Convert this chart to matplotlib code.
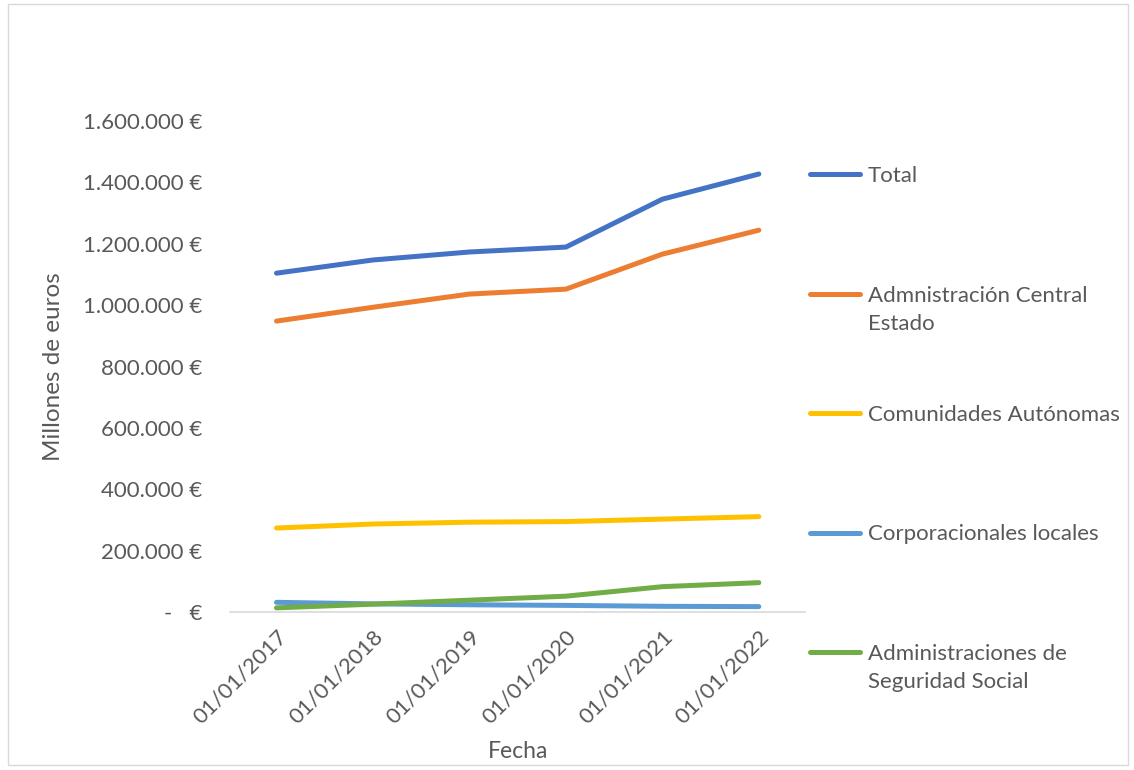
import matplotlib
matplotlib.use("Agg")
import matplotlib.pyplot as plt
from matplotlib.lines import Line2D
from matplotlib.patches import Rectangle
from matplotlib.ticker import FuncFormatter, MultipleLocator

plt.rcParams['font.family'] = ['Lato', 'DejaVu Sans']

fechas = ['01/01/2017', '01/01/2018', '01/01/2019', '01/01/2020', '01/01/2021', '01/01/2022']

total = [1104000, 1147000, 1173000, 1189000, 1345000, 1427000]
admin_central = [948000, 993000, 1036000, 1052000, 1166000, 1244000]
comunidades = [274000, 287000, 293000, 295000, 303000, 311000]
corporaciones = [32000, 27000, 24000, 22000, 19000, 18000]
seguridad_social = [14000, 26000, 39000, 52000, 83000, 96000]

series = [
    ('Total', total, '#4472C4'),
    ('Admnistración Central\nEstado', admin_central, '#ED7D31'),
    ('Comunidades Autónomas', comunidades, '#FFC000'),
    ('Corporacionales locales', corporaciones, '#5B9BD5'),
    ('Administraciones de\nSeguridad Social', seguridad_social, '#70AD47'),
]

gris = '#595959'
fs = 16

fig = plt.figure(figsize=(11.34, 7.7), dpi=100)
ax = fig.add_axes([0.203, 0.205, 0.507, 0.638])

x = list(range(len(fechas)))
for nombre, valores, color in series:
    ax.plot(x, valores, color=color, lw=3.6, solid_capstyle='round')

ax.set_xlim(-0.48, 5.48)
ax.set_ylim(0, 1600000)
ax.yaxis.set_major_locator(MultipleLocator(200000))


def euros(v, pos):
    if v == 0:
        return '-   €'
    return '{:,.0f} €'.format(v).replace(',', '.')


ax.yaxis.set_major_formatter(FuncFormatter(euros))
ax.set_xticks(x)
ax.set_xticklabels(fechas, rotation=45, ha='right', rotation_mode='anchor')

for s in ['top', 'right', 'left']:
    ax.spines[s].set_visible(False)
ax.spines['bottom'].set_color('#D9D9D9')
ax.spines['bottom'].set_linewidth(1.2)
ax.tick_params(axis='y', length=0, pad=20, labelsize=fs, labelcolor=gris)
ax.tick_params(axis='x', length=0, pad=10, labelsize=fs, labelcolor=gris)

ax.set_xlabel('Fecha', fontsize=fs + 0.5, color=gris, labelpad=10)
ax.set_ylabel('Millones de euros', fontsize=fs + 1.5, color=gris, labelpad=14)

# leyenda a la derecha, entradas espaciadas de forma regular
y0 = 1 - 174 / 770
paso = 119.5 / 770
for i, (nombre, valores, color) in enumerate(series):
    yy = y0 - i * paso
    fig.add_artist(Line2D([810 / 1134, 860 / 1134], [yy, yy], color=color,
                          lw=3.6, solid_capstyle='round'))
    fig.text(868 / 1134, yy + 8 / 770, nombre, fontsize=fs, color=gris,
             va='top', linespacing=1.5, transform=fig.transFigure)

fig.add_artist(Rectangle((8 / 1134, 5 / 770), 1120 / 1134, 761 / 770,
                         transform=fig.transFigure, fill=False,
                         edgecolor='#D9D9D9', lw=1))

fig.savefig('out.png', dpi=100)
